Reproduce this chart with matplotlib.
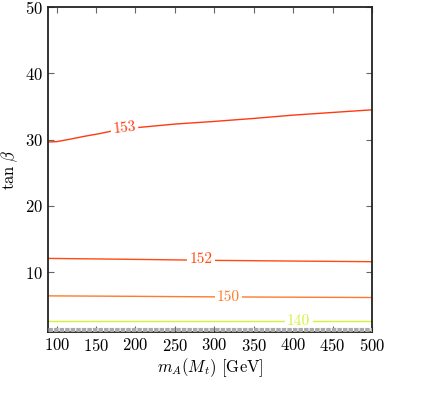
import numpy as np
import matplotlib.pyplot as plt

plt.rcParams['font.family'] = 'serif'
plt.rcParams['font.serif'] = ['cmr10']
plt.rcParams['mathtext.fontset'] = 'cm'
plt.rcParams['axes.formatter.use_mathtext'] = True

# ------------------------------------------------------------------
# Dati (linee di livello m_h)
# ------------------------------------------------------------------
x153 = [89, 100, 116, 135, 154, 170, 190, 205, 250, 300, 350, 400, 450, 500]
y153 = [29.65, 29.7, 30.05, 30.5, 30.9, 31.3, 31.6, 31.85, 32.35, 32.75, 33.2, 33.7, 34.1, 34.5]

x152 = [89, 200, 300, 400, 500]
y152 = [12.1, 11.95, 11.8, 11.7, 11.6]

x150 = [89, 200, 300, 400, 500]
y150 = [6.45, 6.38, 6.3, 6.25, 6.2]

x140 = [89, 500]
y140 = [2.6, 2.6]

grey_levels = [1.15, 1.3, 1.45, 1.6]

levels = ["153", "152", "150", "140"]
colors = ["#ff3a10", "#ff4a12", "#ff7a2a", "#d8f03a"]
label_pos = [(186, 31.7, 6), (283, 11.95, 0), (318, 6.3, 0), (407, 2.6, 0)]

fig = plt.figure(figsize=(4.22, 3.98), dpi=100)
ax = fig.add_axes([0.1137, 0.1658, 0.7678, 0.8166])

for xs, ys, c in zip([x153, x152, x150, x140], [y153, y152, y150, y140], colors):
    ax.plot(xs, ys, color=c, lw=1.0, zorder=2)

for g in grey_levels:
    ax.plot([89, 500], [g, g], color="#aaaaaa", lw=0.8, ls=(0, (4, 1)), zorder=4)

for lab, (lx, ly, rot), c in zip(levels, label_pos, colors):
    ax.text(lx, ly, lab, color=c, fontsize=11, ha="center", va="center",
            rotation=rot, zorder=3,
            bbox=dict(boxstyle="square,pad=0.15", fc="white", ec="none"))

ax.set_xlim(89, 500)
ax.set_ylim(1, 50)
ax.set_xticks(np.arange(100, 501, 50))
ax.set_yticks(np.arange(10, 51, 10))
ax.tick_params(direction="in", top=True, right=True, labelsize=12,
               color="#666666", length=4)
for s in ax.spines.values():
    s.set_linewidth(1.3)
    s.set_color("#222222")

ax.set_xlabel(r"$m_A(M_t)$ [GeV]", fontsize=12, labelpad=2)
ax.set_ylabel(r"$\tan\,\beta$", fontsize=12, labelpad=4)

fig.savefig("out.png", dpi=100)
